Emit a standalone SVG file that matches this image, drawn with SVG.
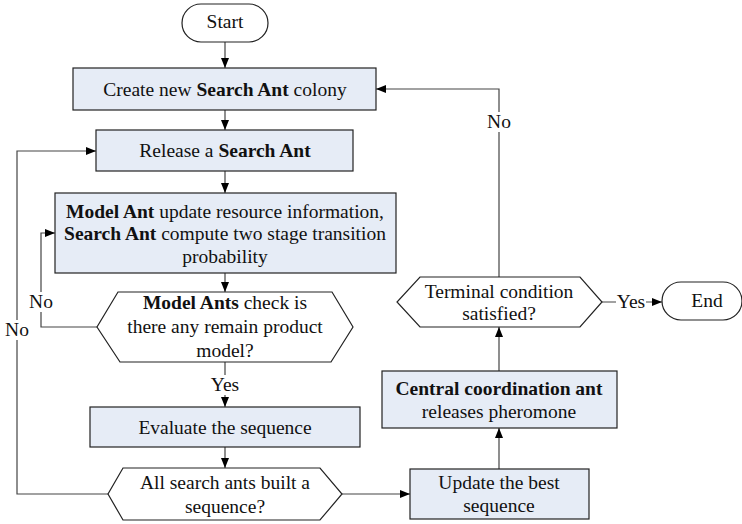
<svg xmlns="http://www.w3.org/2000/svg" width="742" height="524" viewBox="0 0 742 524">
  <style>
    text { font-family: "Liberation Serif", "Times New Roman", serif; font-size: 19.5px; fill: #111; text-anchor: middle; }
    .b { font-weight: bold; }
    .box { fill: #e6ecf6; stroke: #222; stroke-width: 1.2; }
    .term { fill: #fff; stroke: #222; stroke-width: 1.2; }
    .dec { fill: #fff; stroke: #222; stroke-width: 1.2; }
    .conn { fill: none; stroke: #444; stroke-width: 1.2; }
    .lblbg { fill: #fff; }
  </style>
  <defs>
    <marker id="arrow" viewBox="0 0 10 8" refX="10" refY="4" markerWidth="10" markerHeight="8" markerUnits="userSpaceOnUse" orient="auto">
      <path d="M0,0 L10,4 L0,8 Z" fill="#000"/>
    </marker>
  </defs>

  <!-- connectors -->
  <g id="connectors">
    <path class="conn" d="M225,42 V68" marker-end="url(#arrow)"/>
    <path class="conn" d="M225,110 V130" marker-end="url(#arrow)"/>
    <path class="conn" d="M225,171 V193" marker-end="url(#arrow)"/>
    <path class="conn" d="M225,273 V292" marker-end="url(#arrow)"/>
    <path class="conn" d="M97,327 H41 V233 H55" marker-end="url(#arrow)"/>
    <path class="conn" d="M225,362 V407" marker-end="url(#arrow)"/>
    <path class="conn" d="M225,447 V468" marker-end="url(#arrow)"/>
    <path class="conn" d="M108,494 H17 V151 H96" marker-end="url(#arrow)"/>
    <path class="conn" d="M342,494 H410" marker-end="url(#arrow)"/>
    <path class="conn" d="M499,469 V428" marker-end="url(#arrow)"/>
    <path class="conn" d="M499,371 V327" marker-end="url(#arrow)"/>
    <path class="conn" d="M602,302 H662" marker-end="url(#arrow)"/>
    <path class="conn" d="M499,277 V89 H376" marker-end="url(#arrow)"/>

    <!-- connector labels -->
    <rect class="lblbg" x="28" y="292" width="26" height="20"/>
    <text x="41" y="308">No</text>
    <rect class="lblbg" x="4" y="320" width="26" height="20"/>
    <text x="17" y="336">No</text>
    <rect class="lblbg" x="210" y="375" width="30" height="20"/>
    <text x="225" y="391">Yes</text>
    <rect class="lblbg" x="486" y="112" width="26" height="20"/>
    <text x="499" y="128">No</text>
    <rect class="lblbg" x="616" y="292" width="30" height="20"/>
    <text x="631" y="308">Yes</text>
  </g>

  <g id="start">
    <rect class="term" x="182" y="4" width="86" height="38" rx="19" ry="19"/>
    <text x="225" y="28">Start</text>
  </g>

  <g id="create-colony">
    <rect class="box" x="73" y="68" width="303" height="42"/>
    <text x="225" y="96">Create new <tspan class="b">Search Ant</tspan> colony</text>
  </g>

  <g id="release-ant">
    <rect class="box" x="96" y="130" width="257" height="41"/>
    <text x="225" y="157">Release a <tspan class="b">Search Ant</tspan></text>
  </g>

  <g id="update-resource">
    <rect class="box" x="55" y="193" width="341" height="80"/>
    <text x="225" y="218"><tspan class="b">Model Ant</tspan> update resource information,</text>
    <text x="225" y="240"><tspan class="b">Search Ant</tspan> compute two stage transition</text>
    <text x="225" y="263">probability</text>
  </g>

  <g id="check-remain">
    <polygon class="dec" points="118,292 332,292 353,327 331,362 120,362 97,327"/>
    <text x="225" y="309"><tspan class="b">Model Ants</tspan> check is</text>
    <text x="225" y="333">there any remain product</text>
    <text x="225" y="357">model?</text>
  </g>

  <g id="evaluate">
    <rect class="box" x="90" y="407" width="270" height="40"/>
    <text x="225" y="434">Evaluate the sequence</text>
  </g>

  <g id="all-built">
    <polygon class="dec" points="123,468 320,468 342,494 320,520 123,520 108,494"/>
    <text x="225" y="489">All search ants built a</text>
    <text x="225" y="513">sequence?</text>
  </g>

  <g id="update-best">
    <rect class="box" x="410" y="469" width="179" height="50"/>
    <text x="499" y="489">Update the best</text>
    <text x="499" y="512">sequence</text>
  </g>

  <g id="pheromone">
    <rect class="box" x="382" y="371" width="235" height="57"/>
    <text x="499" y="395" class="b">Central coordination ant</text>
    <text x="499" y="418">releases pheromone</text>
  </g>

  <g id="terminal-check">
    <polygon class="dec" points="420,277 580,277 602,302 580,327 420,327 397,302"/>
    <text x="499" y="298">Terminal condition</text>
    <text x="499" y="320">satisfied?</text>
  </g>

  <g id="end">
    <rect class="term" x="662" y="282" width="80" height="38" rx="19" ry="19"/>
    <text x="707" y="307">End</text>
  </g>
</svg>
